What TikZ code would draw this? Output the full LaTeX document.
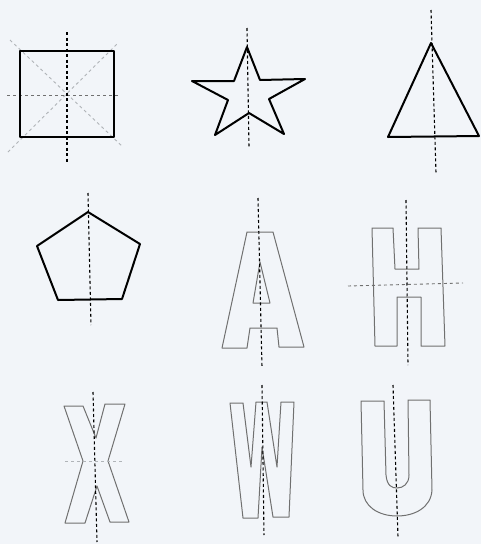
\documentclass[tikz,border=0pt]{standalone}
\definecolor{paper}{HTML}{F2F5F9}
\definecolor{pencil}{HTML}{707070}
\definecolor{faint}{HTML}{B0B4B8}

\begin{document}
\begin{tikzpicture}[x=1pt, y=-1pt, line join=round,
    figure/.style={line width=2pt, black},
    letter/.style={line width=1pt, pencil},
    axis/.style={line width=1.1pt, black, dash pattern=on 3pt off 2.5pt},
    minoraxis/.style={line width=0.9pt, faint, dash pattern=on 3pt off 3pt}]

    \fill [paper] (0,0) rectangle (481,544);

    % Row 1
        %% square
        \draw [minoraxis] (8,152) -- (118,43);
        \draw [minoraxis] (10,40) -- (123,147);
        \draw [minoraxis, pencil] (7,95) -- (120,95);
        \draw [figure, line width=2.6pt] (20,51) rectangle (114,137);
        \draw [axis] (67,32) -- (67,163);

        %% star
        \draw [figure]
            (247,47) -- (260,80) -- (305,79) -- (269,99) -- (284,134)
            -- (249,113) -- (215,135) -- (228,100) -- (192,81) -- (234,81) -- cycle;
        \draw [axis] (247,28) -- (249,147);

        %% triangle
        \draw [figure] (431,43) -- (479,136) -- (388,137) -- cycle;
        \draw [axis] (431,10) -- (436,173);

    % Row 2
        %% pentagon
        \draw [figure] (88,212) -- (140,244) -- (122,299) -- (58,300) -- (37,246) -- cycle;
        \draw [axis] (88,193) -- (91,325);

        %% letter A
        \draw [letter]
            (247,232) -- (273,232) -- (304,347) -- (279,347) -- (277,328)
            -- (250,328) -- (247,348) -- (222,348) -- cycle;
        \draw [letter] (260,262) -- (270,303) -- (253,303) -- cycle;
        \draw [axis] (258,198) -- (262,367);

        %% letter H
        \draw [letter]
            (372,228) -- (393,228) -- (395,269) -- (419,269) -- (418,228)
            -- (441,228) -- (445,346) -- (421,346) -- (421,297) -- (397,297)
            -- (397,346) -- (375,346) -- cycle;
        \draw [minoraxis, pencil] (348,286) -- (463,283);
        \draw [axis] (406,200) -- (408,365);

    % Row 3
        %% letter X
        \draw [letter]
            (64,406) -- (83,406) -- (96,438) -- (105,404) -- (125,404)
            -- (108,461) -- (129,522) -- (110,522) -- (97,486) -- (85,523)
            -- (65,523) -- (83,461) -- cycle;
        \draw [minoraxis] (65,461) -- (122,461);
        \draw [axis] (93,392) -- (97,542);

        %% letter W
        \draw [letter]
            (230,403) -- (243,403) -- (251,467) -- (256,402) -- (267,402)
            -- (277,467) -- (281,402) -- (294,402) -- (289,517) -- (273,517)
            -- (262,447) -- (258,518) -- (243,518) -- cycle;
        \draw [axis] (262,385) -- (264,535);

        %% letter U
        \draw [letter]
            (361,401) -- (384,401) -- (386,475)
            .. controls (387,486) and (392,488) .. (397,488)
            .. controls (403,488) and (409,484) .. (409,475)
            -- (408,400) -- (430,400) -- (432,490)
            .. controls (431,508) and (414,516) .. (397,516)
            .. controls (378,516) and (363,506) .. (363,490) -- cycle;
        \draw [axis] (393,385) -- (398,537);

\end{tikzpicture}
\end{document}
